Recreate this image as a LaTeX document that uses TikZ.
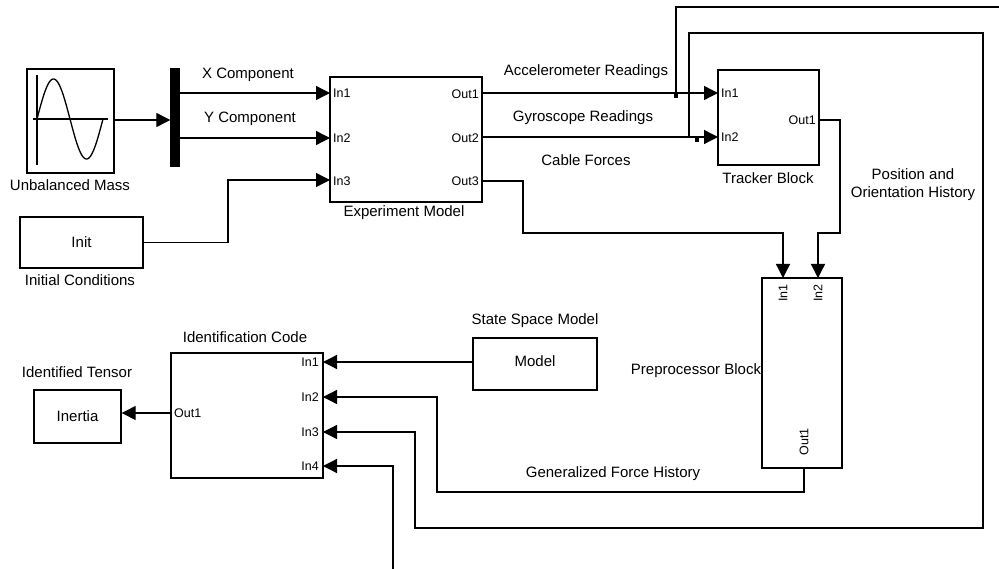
\documentclass[tikz,border=0pt]{standalone}
\usepackage{fontspec}
\setmainfont{Liberation Sans}
\usetikzlibrary{arrows.meta}

\begin{document}
\begin{tikzpicture}[x=1pt,y=-1pt,
  blk/.style={draw, line width=1.4pt, inner sep=0pt, rectangle},
  lbl/.style={inner sep=0pt, font=\fontsize{15}{18}\selectfont},
  port/.style={inner sep=0pt, font=\fontsize{12.5}{15}\selectfont},
  wire/.style={line width=1.3pt},
  arr/.style={wire, -{Triangle[length=14pt,width=14pt]}},
  bdot/.style={fill=black, minimum size=4pt, inner sep=0pt, rectangle}
]
\useasboundingbox (0,0) rectangle (999,569);

% ---------- blocks ----------
\node[blk, minimum width=87pt, minimum height=104pt] (mass) at (70.5,121) {};
\node[blk, fill=black, minimum width=8pt, minimum height=97pt] (mux) at (175,117.5) {};
\node[blk, minimum width=152pt, minimum height=125pt] (exp) at (406,139.5) {};
\node[blk, minimum width=123pt, minimum height=51pt] (init) at (81.5,242.5) {};
\node[blk, minimum width=101pt, minimum height=95pt] (trk) at (768.5,117.5) {};
\node[blk, minimum width=80pt, minimum height=190pt] (prep) at (802,373) {};
\node[blk, minimum width=152pt, minimum height=125pt] (ident) at (247,415.5) {};
\node[blk, minimum width=87pt, minimum height=53pt] (inertia) at (77.5,416.5) {};
\node[blk, minimum width=124pt, minimum height=52pt] (model) at (535,364) {};

% sine-wave icon of the source block
\draw[line width=1.2pt] (37,75) -- (37,165);
\draw[line width=1.2pt] (33,119) -- (108,119);
\draw[line width=1.3pt] plot[domain=0:66, samples=80, smooth] ({37+\x},{119-40*sin(\x/66*360)});

% ---------- texts in blocks ----------
\node[lbl] (tinit) at (init.center) {Init};
\node[lbl] (tinertia) at (inertia.center) {Inertia};
\node[lbl] (tmodel) at (535,361) {Model};

% ---------- block captions ----------
\node[lbl] (cmass) at (70,185) {Unbalanced Mass};
\node[lbl] (cinit) at (80,280) {Initial Conditions};
\node[lbl] (cexp) at (404,213) {Experiment Model};
\node[lbl] (ctrk) at (768,178) {Tracker Block};
\node[lbl] (cprep) at (696,371) {Preprocessor Block};
\node[lbl] (cmodel) at (535,321) {State Space Model};
\node[lbl] (cident) at (245,337) {Identification Code};
\node[lbl] (cinertia) at (77,372) {Identified Tensor};

% ---------- signal labels ----------
\node[lbl] (lx) at (248,75) {X Component};
\node[lbl] (ly) at (250,119) {Y Component};
\node[lbl] (lacc) at (586,72) {Accelerometer Readings};
\node[lbl] (lgyr) at (583,118) {Gyroscope Readings};
\node[lbl] (lcab) at (586,160) {Cable Forces};
\node[lbl, align=center] (lpos) at (913,185) {Position and\\Orientation History};
\node[lbl] (lgen) at (613,474) {Generalized Force History};

% ---------- port coordinates ----------
\coordinate (mo1) at (179,93);
\coordinate (mo2) at (179,138);
\coordinate (ein1) at (330,93);
\coordinate (ein2) at (330,138);
\coordinate (ein3) at (330,180);
\coordinate (eout1) at (482,93);
\coordinate (eout2) at (482,137);
\coordinate (eout3) at (482,181);
\coordinate (tin1) at (718,93);
\coordinate (tin2) at (718,137);
\coordinate (tout) at (819,120);
\coordinate (pin1) at (783,278);
\coordinate (pin2) at (818,278);
\coordinate (pout) at (804,468);
\coordinate (iin1) at (323,362);
\coordinate (iin2) at (323,397);
\coordinate (iin3) at (323,432);
\coordinate (iin4) at (323,466);
\coordinate (iout) at (171,413);
\coordinate (topend) at (999,7);
\coordinate (botend) at (393,569);

% ---------- port labels ----------
\node[port, anchor=west] (pe1) at (333,93) {In1};
\node[port, anchor=west] (pe2) at (333,138) {In2};
\node[port, anchor=west] (pe3) at (333,181) {In3};
\node[port, anchor=east] (pe4) at (479,94) {Out1};
\node[port, anchor=east] (pe5) at (479,138) {Out2};
\node[port, anchor=east] (pe6) at (479,181) {Out3};
\node[port, anchor=west] (pt1) at (721,93) {In1};
\node[port, anchor=west] (pt2) at (721,137) {In2};
\node[port, anchor=east] (pt3) at (816,120) {Out1};
\node[port, rotate=90] (pp1) at (783,293) {In1};
\node[port, rotate=90] (pp2) at (818,293) {In2};
\node[port, rotate=90] (pp3) at (804,442) {Out1};
\node[port, anchor=east] (pi1) at (319,362) {In1};
\node[port, anchor=east] (pi2) at (319,397) {In2};
\node[port, anchor=east] (pi3) at (319,432) {In3};
\node[port, anchor=east] (pi4) at (319,466) {In4};
\node[port, anchor=west] (pi5) at (174,413) {Out1};

% ---------- connectors ----------
\draw[arr] (mass.east |- 0,120) -- (mux.west |- 0,120);
\draw[arr] (mo1) -- (ein1);
\draw[arr] (mo2) -- (ein2);
\draw[arr] (init.east) -| (228,180) -- (ein3);
\draw[arr] (eout1) -- (tin1);
\draw[arr] (eout2) -- (tin2);
\draw[wire] (676,93) -- (676,7) -- (topend);
\draw[arr] (689,137) -- (689,33) -- (983,33) -- (983,528) -- (415,528) -- (415,432) -- (iin3);
\draw[arr] (eout3) -- (523,181) -- (523,233) -- (783,233) -- (pin1);
\draw[arr] (tout) -- (840,120) -- (840,233) -- (818,233) -- (pin2);
\draw[arr] (pout) -- (804,492) -- (437,492) -- (437,397) -- (iin2);
\draw[arr] (model.west |- iin1) -- (iin1);
\draw[arr] (iout) -- (inertia.east |- iout);
\draw[arr] (botend) -- (393,466) -- (iin4);

% branch points
\node[bdot] (b1) at (676,96) {};
\node[bdot] (b2) at (697,140) {};
\end{tikzpicture}
\end{document}
